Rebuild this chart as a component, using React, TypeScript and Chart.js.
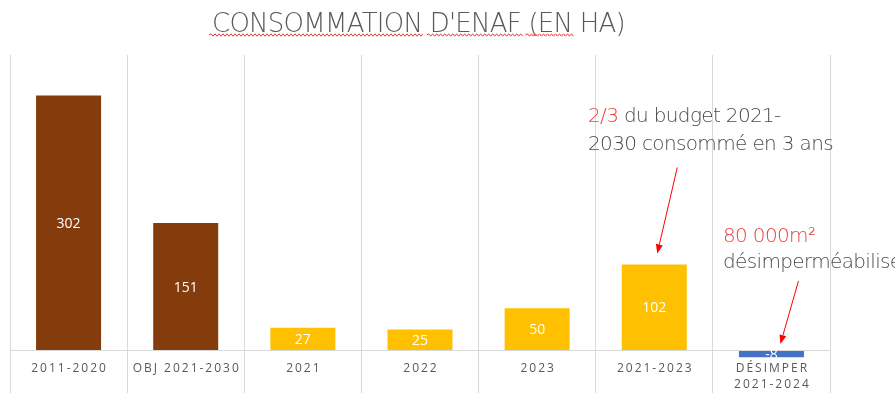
import React, { useEffect, useRef } from "react";
import { Chart, registerables } from "chart.js";

Chart.register(...registerables);

const categories: (string | string[])[] = [
  "2011-2020",
  "OBJ 2021-2030",
  "2021",
  "2022",
  "2023",
  "2021-2023",
  ["DÉSIMPER", "2021-2024"],
];
const values = [302, 151, 27, 25, 50, 102, -8];
const barColors = ["#843C0C", "#843C0C", "#FFC000", "#FFC000", "#FFC000", "#FFC000", "#4472C4"];
const titleText = "CONSOMMATION D'ENAF (EN HA)";
const note1Red = "2/3";
const note1Line1 = " du budget 2021-";
const note1Line2 = "2030 consommé en 3 ans";
const note2Red = "80 000m²";
const note2Line2 = "désimperméabilisés";

function drawArrow(ctx: CanvasRenderingContext2D, x1: number, y1: number, x2: number, y2: number) {
  const ang = Math.atan2(y2 - y1, x2 - x1);
  const len = 9;
  const half = 3.5;
  ctx.save();
  ctx.strokeStyle = "#FF0000";
  ctx.fillStyle = "#FF0000";
  ctx.lineWidth = 1;
  ctx.beginPath();
  ctx.moveTo(x1, y1);
  ctx.lineTo(x2 - Math.cos(ang) * len, y2 - Math.sin(ang) * len);
  ctx.stroke();
  ctx.beginPath();
  ctx.moveTo(x2, y2);
  ctx.lineTo(x2 - Math.cos(ang) * len - Math.sin(ang) * half, y2 - Math.sin(ang) * len + Math.cos(ang) * half);
  ctx.lineTo(x2 - Math.cos(ang) * len + Math.sin(ang) * half, y2 - Math.sin(ang) * len - Math.cos(ang) * half);
  ctx.closePath();
  ctx.fill();
  ctx.restore();
}

function wavy(ctx: CanvasRenderingContext2D, x1: number, x2: number, y: number) {
  ctx.save();
  ctx.strokeStyle = "#E53935";
  ctx.lineWidth = 1;
  ctx.beginPath();
  let up = true;
  ctx.moveTo(x1, y);
  for (let x = x1; x < x2; x += 2) {
    ctx.lineTo(x + 2, y + (up ? -1.2 : 1.2));
    up = !up;
  }
  ctx.stroke();
  ctx.restore();
}

const overlayPlugin = {
  id: "overlay",
  afterDraw(chart: any) {
    const ctx: CanvasRenderingContext2D = chart.ctx;
    const meta = chart.getDatasetMeta(0);
    const area = chart.chartArea;

    // data labels
    ctx.save();
    ctx.font = "14px 'Open Sans', 'Noto Sans', sans-serif";
    ctx.fillStyle = "#FFFFFF";
    ctx.textAlign = "center";
    ctx.textBaseline = "middle";
    meta.data.forEach((el: any, i: number) => {
      const p = el.getProps(["x", "y", "base"], true);
      ctx.fillText(String(values[i]), p.x, (p.y + p.base) / 2 + 1);
    });
    ctx.restore();

    // category labels
    const xs = chart.scales.x;
    ctx.save();
    ctx.font = "12px 'Open Sans', 'Noto Sans', sans-serif";
    ctx.fillStyle = "#595959";
    ctx.textAlign = "center";
    ctx.textBaseline = "middle";
    (ctx as any).letterSpacing = "2px";
    categories.forEach((lbl, i) => {
      const x = xs.getPixelForValue(i) + 1;
      const lines = Array.isArray(lbl) ? lbl : [lbl];
      lines.forEach((ln, k) => {
        ctx.fillText(ln, x, area.bottom + 10 + k * 16);
      });
    });
    ctx.restore();

    // title
    ctx.save();
    ctx.font = "200 26px 'DejaVu Sans', sans-serif";
    ctx.fillStyle = "#595959";
    ctx.textBaseline = "alphabetic";
    ctx.textAlign = "left";
    const targetW = 413;
    (ctx as any).letterSpacing = "0px";
    const w0 = ctx.measureText(titleText).width;
    const sp = (targetW - w0) / titleText.length;
    (ctx as any).letterSpacing = sp + "px";
    const tx = 212;
    const ty = 32;
    ctx.fillText(titleText, tx, ty);
    const segs: [string, string][] = [
      ["", "CONSOMMATION"],
      ["CONSOMMATION ", "D'ENAF"],
      ["CONSOMMATION D'ENAF ", "(EN"],
    ];
    const widths = segs.map(([pre, word]) => [
      tx + (pre ? ctx.measureText(pre).width : 0),
      tx + ctx.measureText(pre + word).width - sp,
    ]);
    ctx.restore();
    widths.forEach(([a, b]) => wavy(ctx, a - 3, b, ty + 3));

    // annotations
    ctx.save();
    ctx.font = "200 20px 'DejaVu Sans', sans-serif";
    ctx.textBaseline = "middle";
    ctx.textAlign = "left";
    (ctx as any).letterSpacing = "0px";
    const lw = ctx.measureText(note1Line2).width;
    const asp = (245 - lw) / note1Line2.length;
    (ctx as any).letterSpacing = asp + "px";
    const ax = 588;
    ctx.fillStyle = "#E8413C";
    ctx.fillText(note1Red, ax, 117);
    const rw = ctx.measureText(note1Red).width;
    ctx.fillStyle = "#4A4A4A";
    ctx.fillText(note1Line1, ax + rw, 117);
    ctx.fillText(note1Line2, ax, 145);
    ctx.fillStyle = "#E8413C";
    ctx.fillText(note2Red, 723, 237);
    ctx.fillStyle = "#4A4A4A";
    ctx.fillText(note2Line2, 723, 263);
    ctx.restore();

    // arrows pointing at bars
    const b5 = meta.data[5].getProps(["x", "y", "base"], true);
    drawArrow(ctx, b5.x + 23, b5.y - 97, b5.x + 3, b5.y - 11);
    const b6 = meta.data[6].getProps(["x", "y", "base"], true);
    drawArrow(ctx, b6.x + 27, b6.base - 70, b6.x + 9, b6.base - 7);
  },
};

export default function App() {
  const ref = useRef<HTMLCanvasElement>(null);
  useEffect(() => {
    if (!ref.current) return;
    const chart = new Chart(ref.current, {
      type: "bar",
      data: {
        labels: categories as any,
        datasets: [
          {
            data: values,
            backgroundColor: barColors,
            barPercentage: 0.555,
            categoryPercentage: 1,
          },
        ],
      },
      options: {
        animation: false,
        responsive: false,
        layout: { padding: { top: 55, left: 10, right: 65, bottom: 0 } },
        plugins: {
          legend: { display: false },
          title: { display: false },
          tooltip: { enabled: false },
        },
        scales: {
          x: {
            grid: { color: "#D9D9D9", offset: true, tickLength: 34, drawOnChartArea: true },
            border: { display: false },
            ticks: { display: false },
          },
          y: {
            min: -10,
            max: 350,
            afterBuildTicks: (s: any) => {
              s.ticks = [{ value: 0 }];
            },
            grid: { color: "#D9D9D9", drawTicks: false },
            border: { display: false },
            ticks: { display: false },
          },
        },
      },
      plugins: [overlayPlugin],
    });
    return () => chart.destroy();
  }, []);
  return (
    <div style={{ position: "fixed", left: 0, top: 0, width: 895, height: 393, background: "#fff" }}>
      <canvas ref={ref} width={895} height={393} />
    </div>
  );
}
